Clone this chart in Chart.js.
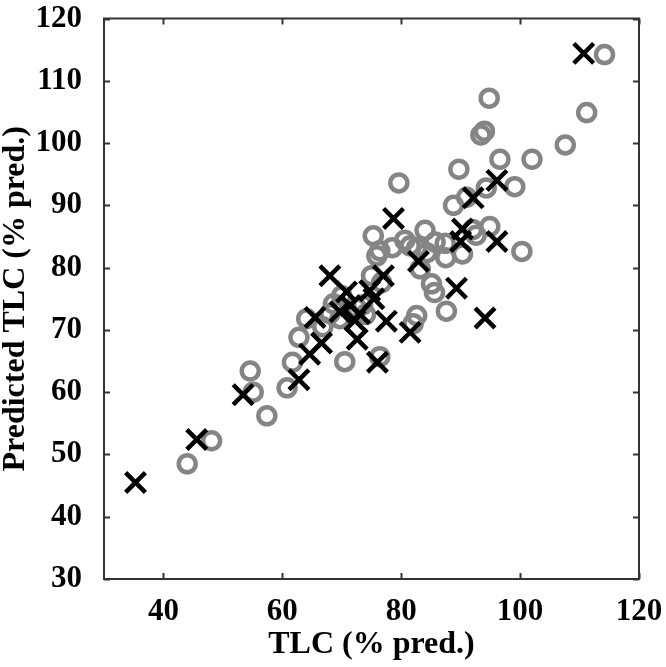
<!DOCTYPE html>
<html>
<head>
<meta charset="utf-8">
<script src="https://cdn.jsdelivr.net/npm/chart.js@4"></script>
<style>
  html, body { margin: 0; padding: 0; background: #fff; }
  #wrap { width: 666px; height: 667px; }
</style>
</head>
<body>
<div id="wrap"><canvas id="tlcChart" width="666" height="667"></canvas></div>
<script>
// measured vs predicted TLC, black crosses
const crossX = [35.3, 45.6, 53.4, 62.8, 64.6, 66.6, 65.5, 68.0, 70.8, 71.4,
                69.7, 73.0, 72.2, 72.6, 74.7, 75.4, 77.0, 77.5, 76.0, 78.7,
                82.9, 81.5, 89.3, 90.3, 90.0, 92.1, 96.1, 96.1, 94.1, 110.7];
const crossY = [45.5, 52.4, 59.6, 62.0, 66.1, 67.9, 72.0, 78.7, 76.1, 73.9,
                72.9, 72.6, 71.5, 68.5, 76.3, 75.0, 78.7, 71.4, 64.8, 87.9,
                81.0, 69.6, 76.7, 86.2, 84.2, 91.2, 94.0, 84.2, 71.9, 114.4];

// grey circles
const circX = [44.0, 48.1, 54.6, 55.1, 57.4, 60.8, 61.7, 62.8, 64.1, 66.8,
               68.0, 68.6, 70.0, 69.7, 70.5, 72.5, 73.5, 74.0, 75.0, 75.9,
               76.4, 75.3, 76.7, 78.5, 80.6, 81.5, 82.6, 84.0, 84.3, 85.7,
               87.4, 87.5, 90.3, 83.2, 85.1, 85.6, 87.6, 82.6, 82.0, 76.4,
               79.6, 88.8, 89.7, 91.0, 94.3, 92.0, 92.6, 94.9, 99.1, 100.3,
               96.6, 102.0, 94.0, 93.4, 94.8, 107.6, 111.2, 114.2];
const circY = [48.5, 52.2, 63.4, 60.0, 56.2, 60.7, 64.8, 68.8, 71.8, 70.5,
               72.6, 74.2, 75.5, 71.8, 64.9, 73.5, 74.0, 72.5, 78.7, 81.9,
               82.7, 85.1, 77.6, 83.2, 84.4, 83.5, 83.2, 86.0, 82.4, 84.1,
               83.9, 81.6, 82.2, 79.8, 77.4, 76.0, 73.0, 72.3, 71.0, 65.7,
               93.6, 90.0, 95.8, 91.3, 92.8, 86.1, 85.2, 86.6, 93.0, 82.6,
               97.4, 97.4, 101.9, 101.3, 107.2, 99.7, 104.9, 114.2];

const xTicks = [40, 60, 80, 100, 120];
const yTicks = [30, 40, 50, 60, 70, 80, 90, 100, 110, 120];

const toPoints = (xs, ys) => xs.map((x, i) => ({ x: x, y: ys[i] }));

const FONT = "'Liberation Serif', 'Times New Roman', serif";

// box around the plot with inward tick marks on all four sides
const boxTicks = {
    id: 'boxTicks',
    afterDraw(chart) {
        const { ctx, chartArea: a, scales } = chart;
        const len = 6;
        ctx.save();
        ctx.strokeStyle = '#333';
        ctx.lineWidth = 2;
        ctx.strokeRect(a.left, a.top, a.right - a.left, a.bottom - a.top);
        ctx.beginPath();
        xTicks.forEach(v => {
            const px = Math.round(scales.x.getPixelForValue(v)) + 0.5;
            ctx.moveTo(px, a.bottom); ctx.lineTo(px, a.bottom - len);
            ctx.moveTo(px, a.top); ctx.lineTo(px, a.top + len);
        });
        yTicks.forEach(v => {
            const py = Math.round(scales.y.getPixelForValue(v)) + 0.5;
            ctx.moveTo(a.left, py); ctx.lineTo(a.left + len, py);
            ctx.moveTo(a.right, py); ctx.lineTo(a.right - len, py);
        });
        ctx.stroke();
        ctx.restore();
    }
};

function createChart() {
    const ctx = document.getElementById('tlcChart').getContext('2d');
    new Chart(ctx, {
        type: 'scatter',
        data: {
            datasets: [{
                label: 'crosses',
                data: toPoints(crossX, crossY),
                pointStyle: 'crossRot',
                pointRadius: 14,
                pointHoverRadius: 14,
                borderColor: '#000',
                borderWidth: 4.5,
                pointBorderWidth: 4.5
            }, {
                label: 'circles',
                data: toPoints(circX, circY),
                pointStyle: 'circle',
                pointRadius: 8.5,
                pointHoverRadius: 8.5,
                borderColor: '#858585',
                backgroundColor: 'rgba(0,0,0,0)',
                pointBorderWidth: 4.5
            }]
        },
        options: {
            responsive: false,
            animation: false,
            layout: { padding: 0 },
            plugins: { legend: { display: false }, tooltip: { enabled: false } },
            scales: {
                x: {
                    type: 'linear',
                    min: 30, max: 120,
                    afterBuildTicks: s => { s.ticks = xTicks.map(v => ({ value: v })); },
                    afterFit: s => {
                        s.height = 88;
                        s.paddingLeft = 0;
                        s.paddingRight = 27;
                    },
                    grid: { display: false },
                    border: { display: false },
                    ticks: { color: '#000', padding: 10, font: { family: FONT, size: 31, weight: 'bold', lineHeight: 0.95 } },
                    title: {
                        display: true, text: 'TLC (% pred.)', color: '#000',
                        padding: { top: 0, bottom: 3 },
                        font: { family: FONT, size: 32, weight: 'bold' }
                    }
                },
                y: {
                    type: 'linear',
                    min: 30, max: 120,
                    afterBuildTicks: s => { s.ticks = yTicks.map(v => ({ value: v })); },
                    afterFit: s => {
                        s.width = 104;
                        s.paddingTop = 14;
                        s.paddingBottom = 0;
                    },
                    grid: { display: false },
                    border: { display: false },
                    ticks: { color: '#000', padding: 14, font: { family: FONT, size: 31, weight: 'bold', lineHeight: 0.9 } },
                    title: {
                        display: true, text: 'Predicted TLC (% pred.)', color: '#000',
                        padding: 0,
                        font: { family: FONT, size: 32, weight: 'bold', lineHeight: 1.0 }
                    }
                }
            }
        },
        plugins: [boxTicks]
    });
}

document.addEventListener('DOMContentLoaded', createChart);
</script>
</body>
</html>
